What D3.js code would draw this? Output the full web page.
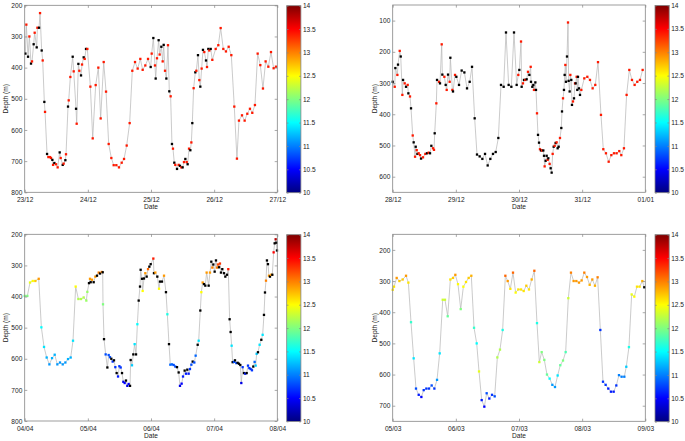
<!DOCTYPE html>
<html><head><meta charset="utf-8">
<script src="https://cdn.jsdelivr.net/npm/d3@7"></script>
<style>
body{margin:0;background:#fff}
svg{display:block}
text{font-family:"Liberation Sans",Arial,Helvetica,sans-serif;fill:#222}
</style>
</head><body>
<svg id="chart" width="685" height="441"></svg>
<script>
// ---------- DATA (time = days since panel start, depth in m, temperature in °C; null = no temperature) ----------
const p1Start = "2012-12-23";
const p1Time = [0.011,0.026,0.053,0.074,0.100,0.116,0.142,0.158,0.190,0.201,0.227,0.243,0.269,0.285,0.311,0.322,0.354,0.375,0.401,0.417,0.438,0.449,0.470,0.496,0.522,0.554,0.570,0.602,0.617,0.644,0.654,0.686,0.697,0.723,0.760,0.776,0.813,0.823,0.850,0.865,0.892,0.908,0.934,0.950,0.971,0.992,1.040,1.077,1.124,1.166,1.203,1.251,1.288,1.330,1.372,1.409,1.451,1.493,1.536,1.573,1.615,1.662,1.704,1.747,1.789,1.831,1.868,1.910,1.953,1.995,2.011,2.037,2.063,2.074,2.095,2.121,2.137,2.164,2.185,2.201,2.222,2.243,2.269,2.290,2.311,2.332,2.348,2.369,2.385,2.412,2.438,2.459,2.480,2.501,2.522,2.544,2.565,2.580,2.602,2.623,2.639,2.654,2.675,2.702,2.718,2.744,2.765,2.781,2.802,2.823,2.844,2.871,2.887,2.908,2.923,2.945,2.971,3.024,3.066,3.103,3.145,3.187,3.230,3.272,3.319,3.361,3.393,3.441,3.483,3.525,3.567,3.604,3.646,3.689,3.731,3.773,3.815,3.858,3.900,3.942,3.979];
const p1Depth = [355,262,365,300,387,380,325,288,335,272,272,225,345,377,510,542,677,687,687,690,696,712,706,710,720,672,690,712,708,697,678,525,505,430,365,412,532,580,388,410,425,390,367,372,340,340,461,627,456,400,563,382,477,645,690,713,713,720,705,693,650,578,410,382,403,372,407,393,372,398,355,305,393,435,370,312,358,333,380,327,410,435,328,476,492,645,660,705,712,725,712,715,720,720,703,693,703,710,660,665,640,578,466,415,410,360,440,461,403,343,350,377,398,340,345,340,375,340,328,273,340,348,333,360,525,692,570,553,570,548,532,545,520,355,392,467,380,397,350,402,397];
const p1Temp = [null,13.4,null,13.4,null,13.4,null,13.4,null,13.4, null,13.4,null,13.4,null,13.4,null,13.4,13.4,13.4, null,13.4,null,13.4,13.4,null,13.4,null,13.4,null, 13.4,null,13.4,13.4,null,13.4,null,13.4,null,13.4, null,13.4,null,13.4,null,13.4,13.4,13.4,13.4,13.4, 13.4,13.4,13.4,13.4,13.4,13.4,13.4,13.4,13.4,13.4, 13.4,13.4,13.4,13.4,13.4,13.4,13.4,13.4,13.4,null, 13.4,null,13.4,null,13.4,null,13.4,null,13.4,null, 13.4,null,13.4,null,13.4,null,13.4,null,13.4,null, 13.4,null,13.4,null,13.4,null,13.4,null,13.4,null, 13.4,null,13.4,null,13.4,null,13.4,null,13.4,null, 13.4,null,13.4,null,13.4,null,13.4,13.4,13.4,13.4, 13.4,13.4,13.4,13.4,13.4,13.4,13.4,13.4,13.4,13.4, 13.4,13.4,13.4,13.4,13.4,13.4,13.4,13.4,13.4,13.4,13.4];

const p2Start = "2012-12-28";
const p2Time = [0.000,0.032,0.042,0.074,0.084,0.111,0.127,0.153,0.164,0.190, 0.211,0.237,0.248,0.274,0.290,0.317,0.332,0.354,0.364,0.380, 0.391,0.412,0.433,0.449,0.480,0.517,0.543,0.570,0.591,0.612, 0.639,0.654,0.665,0.691,0.702,0.734,0.749,0.776,0.786,0.818, 0.839,0.855,0.876,0.902,0.913,0.945,0.955,0.987,1.008,1.050, 1.092,1.135,1.177,1.219,1.256,1.298,1.335,1.377,1.420,1.462, 1.504,1.546,1.588,1.631,1.673,1.715,1.757,1.794,1.836,1.879, 1.921,1.963,1.989,2.005,2.032,2.042,2.063,2.079,2.100,2.121, 2.142,2.164,2.185,2.190,2.211,2.227,2.237,2.259,2.269,2.285, 2.301,2.317,2.332,2.348,2.364,2.385,2.396,2.406,2.422,2.438, 2.454,2.464,2.485,2.501,2.517,2.533,2.549,2.565,2.580,2.596, 2.612,2.628,2.649,2.670,2.681,2.697,2.712,2.723,2.734,2.744, 2.760,2.776,2.786,2.802,2.813,2.828,2.839,2.855,2.871,2.887, 2.897,2.913,2.923,2.934,2.950,2.966,2.987,3.034,3.082,3.124, 3.166,3.208,3.251,3.298,3.335,3.377,3.420,3.462,3.504,3.546, 3.588,3.620,3.662,3.704,3.747,3.789,3.831,3.873,3.916,3.958];
const p2Depth = [296,312,252,274,241,197,215,338,290,301, 312,306,333,343,381,468,490,536,504,515, 527,525,531,542,538,527,525,523,525,501, 509,514,461,365,290,296,301,176,273,280, 306,322,273,296,219,322,327,274,280,306, 260,266,317,296,248,413,529,535,543,527, 564,543,527,521,476,306,312,138,306,312, 138,306,274,258,167,312,301,290,290,288, 264,274,248,296,312,306,322,298,322,397, 466,491,512,516,516,516,533,567,549,533, 546,541,559,573,587,527,504,501,492,490, 509,504,476,444,391,349,322,274,242,296, 215,106,293,327,274,290,370,359,349,301, 301,280,322,280,317,338,322,285,280,290, 317,306,233,402,512,525,552,531,525,525, 518,531,509,338,258,290,306,296,290,258];
const p2Temp = [null,13.4,null,13.4,null,13.4,null,13.4,null,13.4, null,13.4,null,13.4,null,13.4,null,13.4,null,13.4, null,13.4,13.4,null,13.4,13.4,null,13.4,null,null, 13.4,13.4,null,13.4,null,13.4,null,13.4,null,13.4, null,13.4,null,13.4,null,13.4,null,13.4,null,null, null,null,null,null,null,null,null,null,null,null, null,null,null,null,null,null,null,null,null,null, null,null,13.4,null,13.4,null,13.4,null,13.4,null, 13.4,null,13.4,null,null,null,13.4,null,null,13.4, null,null,13.4,null,13.4,null,null,13.4,null,null, 13.4,null,13.4,null,null,13.4,null,13.4,null,13.4, null,null,13.4,null,null,13.4,null,null,13.4,null, null,13.4,null,null,13.4,null,null,13.4,null,13.4, null,13.4,null,null,null,null,13.4,13.4,13.4,13.4, 13.4,13.4,13.4,13.4,13.4,13.4,13.4,13.4,13.4,13.4, 13.4,13.4,13.4,13.4,13.4,13.4,13.4,13.4,13.4,13.4];

const p3Start = "2013-04-04";
const p3Time = [0.000,0.042,0.084,0.127,0.169,0.222,0.264,0.306,0.348,0.391, 0.433,0.475,0.517,0.559,0.602,0.644,0.686,0.728,0.765,0.807, 0.850,0.892,0.934,0.976,0.992,1.018,1.034,1.045,1.066,1.092, 1.119,1.145,1.172,1.193,1.219,1.235,1.240,1.256,1.282,1.309, 1.330,1.351,1.372,1.393,1.414,1.435,1.456,1.478,1.499,1.520, 1.541,1.562,1.583,1.604,1.625,1.646,1.668,1.678,1.699,1.720, 1.741,1.763,1.784,1.805,1.826,1.836,1.858,1.868,1.889,1.910, 1.931,1.953,1.974,1.995,2.037,2.047,2.069,2.100,2.127,2.142, 2.174,2.206,2.237,2.259,2.285,2.306,2.332,2.359,2.385,2.412, 2.438,2.459,2.485,2.507,2.533,2.554,2.575,2.596,2.617,2.639, 2.660,2.686,2.707,2.739,2.755,2.781,2.797,2.818,2.839,2.860, 2.881,2.913,2.934,2.955,2.971,2.987,3.008,3.029,3.045,3.061, 3.077,3.092,3.108,3.129,3.156,3.177,3.203,3.224,3.245,3.261, 3.277,3.293,3.314,3.330,3.351,3.372,3.393,3.414,3.430,3.451, 3.472,3.493,3.515,3.536,3.557,3.578,3.599,3.620,3.641,3.657, 3.673,3.694,3.720,3.747,3.768,3.789,3.805,3.821,3.836,3.852, 3.868,3.884,3.905,3.921,3.942,3.958,3.974,3.984,3.995];
const p3Depth = [398,398,355,350,350,343,499,562,596,618, 598,587,618,612,618,612,601,596,542,368, 408,408,403,413,385,357,343,354,346,354, 336,333,323,326,321,322,425,537,586,628, 588,595,600,609,605,627,646,657,624,628, 646,674,678,670,687,681,687,604,621,586, 553,586,489,413,368,314,343,382,342,325, 336,312,304,296,278,325,323,336,375,352, 352,333,386,457,553,619,618,620,625,627, 644,687,680,657,638,648,635,648,633,619, 609,612,590,555,542,445,386,355,360,365, 323,365,323,288,307,297,320,284,307,297, 306,294,323,312,325,336,330,312,473,514, 558,611,610,605,614,613,616,620,678,627, 646,648,646,622,630,633,637,625,610,622, 584,579,555,539,523,459,387,349,284,296, 333,336,330,330,258,229,216,227,252];
const p3Temp = [12.0,12.0,12.4,12.5,12.7,12.9,11.5,11.4,11.2,11.1, 11.2,11.2,11.1,11.1,11.1,11.1,11.2,11.2,11.4,12.5, 12.2,12.2,12.2,12.1,12.1,null,12.9,null,12.9,null, 12.9,null,13.0,null,13.0,null,12.0,null,10.8,null, 10.8,10.8,null,10.7,null,10.7,null,10.6,10.7,10.7, null,10.4,10.5,null,10.4,10.5,null,null,11.3,null, 11.4,null,11.5,null,null,null,null,12.5,null,12.9, null,13.1,null,null,13.4,null,12.9,null,12.5,null, null,12.9,null,11.6,null,10.9,10.9,10.8,10.8,null, null,10.4,10.5,10.6,null,10.6,null,10.6,10.7,10.8, null,10.8,10.9,null,11.4,null,12.5,12.9,null,null, 12.9,null,12.9,null,13.0,null,null,null,13.0,13.2, null,13.3,null,null,null,null,null,13.4,null,null, 11.4,null,10.8,null,10.8,null,null,null,10.4,10.7, null,10.6,null,10.7,10.7,10.7,10.7,null,10.9,11.3, 11.3,null,11.4,null,11.4,null,null,13.0,null,null, 12.9,null,12.9,null,13.5,null,13.8,null,null];

const p4Start = "2013-03-05";
const p4Time = [0.000,0.021,0.063,0.106,0.158,0.211,0.248,0.290,0.332,0.369, 0.412,0.454,0.491,0.533,0.575,0.617,0.660,0.702,0.744,0.792, 0.828,0.871,0.913,0.955,0.992,1.034,1.077,1.119,1.161,1.203, 1.245,1.288,1.330,1.367,1.409,1.451,1.488,1.530,1.573,1.615, 1.657,1.699,1.741,1.784,1.821,1.863,1.905,1.947,1.989,2.032, 2.074,2.116,2.158,2.201,2.243,2.285,2.322,2.359,2.401,2.443, 2.485,2.528,2.570,2.612,2.654,2.697,2.739,2.781,2.823,2.865, 2.908,2.950,2.992,3.034,3.077,3.119,3.161,3.203,3.245,3.288, 3.330,3.372,3.414,3.456,3.499,3.541,3.583,3.625,3.668,3.699, 3.741,3.784,3.826,3.868,3.910,3.953,3.984];
const p4Depth = [328,318,290,300,295,283,305,432,548,645, 665,672,650,645,645,635,645,617,532,360, 360,413,295,290,280,310,390,318,303,290, 283,450,500,590,682,703,660,677,665,670, 545,520,457,283,300,325,273,337,327,327, 332,315,327,295,267,435,560,528,553,600, 613,633,640,603,570,555,528,355,273,300, 300,305,298,273,287,312,295,315,288,457, 623,633,645,655,655,635,602,607,607,575, 512,343,350,318,318,300,320];
const p4Temp = [12.6,12.6,12.9,12.7,12.7,12.9,12.6,11.7,11.4,10.8, 10.6,10.5,10.7,10.7,10.7,10.8,10.7,11.1,11.4,12.3, 12.3,11.9,12.6,12.7,12.9,12.5,12.0,12.5,12.6,12.7, 12.8,11.7,11.5,12.4,10.6,10.5,10.8,10.6,10.7,10.8, 12.2,12.2,11.6,13.1,12.9,12.6,13.1,12.5,12.6,12.6, 12.6,12.7,12.6,12.8,13.1,11.6,12.3,12.0,12.0,11.9, 11.5,11.1,11.1,11.4,11.9,12.0,11.8,12.3,13.0,12.9, 12.9,12.9,12.9,13.0,12.9,12.8,12.9,12.8,13.0,10.7, 10.7,10.7,10.6,10.6,10.6,10.7,11.0,11.0,11.0,11.3, 11.6,12.4,12.5,12.6,12.6,12.8,null];

const depthTicksA = [200,300,400,500,600,700,800];
const depthTicksB = [100,200,300,400,500,600];
const depthTicksD = [200,300,400,500,600,700];
const tempTicks = [10,10.5,11,11.5,12,12.5,13,13.5,14];
const tempRange = [10,14];

// ---------- LAYOUT ----------
const layout = [
  {start:p1Start, time:p1Time, depth:p1Depth, temp:p1Temp, yDom:[200,800], yTicks:depthTicksA,
   x0:24.7, x1:277.3, y0:5.3, y1:192.3, cbx:286.7, ylx:8.3, dateY:209},
  {start:p2Start, time:p2Time, depth:p2Depth, temp:p2Temp, yDom:[50,650], yTicks:depthTicksB,
   x0:392.7, x1:645.3, y0:5.0, y1:192.3, cbx:655, ylx:376.5, dateY:209},
  {start:p3Start, time:p3Time, depth:p3Depth, temp:p3Temp, yDom:[200,800], yTicks:depthTicksA,
   x0:24.7, x1:277.3, y0:234.3, y1:421.0, cbx:286.7, ylx:8.3, dateY:437.5},
  {start:p4Start, time:p4Time, depth:p4Depth, temp:p4Temp, yDom:[150,750], yTicks:depthTicksD,
   x0:392.7, x1:645.3, y0:234.3, y1:421.3, cbx:655, ylx:376.5, dateY:437.5}
];

const FS = 6.6;
const AXIS = "#858585";

// MATLAB "jet"
const jet = t => {
  t = Math.max(0, Math.min(1, t));
  const c = v => Math.round(255 * Math.max(0, Math.min(1, 1.5 - Math.abs(4 * t - v))));
  return `rgb(${c(3)},${c(2)},${c(1)})`;
};
const colorScale = d3.scaleSequential(jet).domain(tempRange);

const svg = d3.select("#chart");
const defs = svg.append("defs");
const grad = defs.append("linearGradient").attr("id", "jetgrad")
  .attr("x1", 0).attr("y1", 1).attr("x2", 0).attr("y2", 0);
d3.range(0, 65).forEach(i => {
  const v = tempRange[0] + (tempRange[1] - tempRange[0]) * i / 64;
  grad.append("stop").attr("offset", (i / 64)).attr("stop-color", colorScale(v));
});

const fmt = d3.timeFormat("%d/%m");
const parse = d3.timeParse("%Y-%m-%d");

function styleAxis(g) {
  g.select(".domain").remove();
  g.selectAll("line").attr("stroke", AXIS).attr("stroke-width", 0.7);
  g.selectAll("text").attr("font-size", FS).attr("fill", "#222")
    .attr("font-family", '"Liberation Sans",Arial,sans-serif');
}

layout.forEach(p => {
  const start = parse(p.start);
  const end = d3.timeDay.offset(start, 4);
  const x = d3.scaleTime().domain([start, end]).range([p.x0, p.x1]);
  const y = d3.scaleLinear().domain(p.yDom).range([p.y0, p.y1]);
  const pts = p.time.map((t, i) => ({
    date: new Date(start.getTime() + t * 864e5), depth: p.depth[i], temp: p.temp[i]
  }));

  const g = svg.append("g");

  // line
  g.append("path").datum(pts)
    .attr("d", d3.line().x(d => x(d.date)).y(d => y(d.depth)))
    .attr("fill", "none").attr("stroke", "#b9b9b9").attr("stroke-width", 0.75);

  // markers
  const s = 2.3;
  g.selectAll("rect.pt").data(pts).join("rect").attr("class", "pt")
    .attr("x", d => x(d.date) - s / 2).attr("y", d => y(d.depth) - s / 2)
    .attr("width", s).attr("height", s)
    .attr("fill", d => d.temp == null ? "#000" : colorScale(d.temp));

  // axes (ticks pointing inward, MATLAB style)
  const days = d3.timeDay.range(start, d3.timeDay.offset(end, 1));
  g.append("g").attr("transform", `translate(0,${p.y1})`)
    .call(d3.axisBottom(x).tickValues(days).tickFormat(fmt).tickSizeInner(-2.6).tickSizeOuter(0).tickPadding(5))
    .call(styleAxis);
  g.append("g").attr("transform", `translate(0,${p.y0})`)
    .call(d3.axisTop(x).tickValues(days).tickFormat("").tickSizeInner(-2.6).tickSizeOuter(0))
    .call(styleAxis);
  g.append("g").attr("transform", `translate(${p.x0},0)`)
    .call(d3.axisLeft(y).tickValues(p.yTicks).tickSizeInner(-2.6).tickSizeOuter(0).tickPadding(2.4))
    .call(styleAxis);
  g.append("g").attr("transform", `translate(${p.x1},0)`)
    .call(d3.axisRight(y).tickValues(p.yTicks).tickFormat("").tickSizeInner(-2.6).tickSizeOuter(0))
    .call(styleAxis);

  g.append("rect").attr("x", p.x0).attr("y", p.y0)
    .attr("width", p.x1 - p.x0).attr("height", p.y1 - p.y0)
    .attr("fill", "none").attr("stroke", AXIS).attr("stroke-width", 0.8);

  // axis labels
  g.append("text").attr("x", (p.x0 + p.x1) / 2).attr("y", p.dateY)
    .attr("text-anchor", "middle").attr("font-size", FS).text("Date");
  g.append("text")
    .attr("transform", `translate(${p.ylx},${(p.y0 + p.y1) / 2}) rotate(-90)`)
    .attr("text-anchor", "middle").attr("font-size", FS).text("Depth (m)");

  // colorbar
  const cw = 14.2;
  const cy0 = p.y0 + 0.4, cy1 = p.y1 + 0.4;
  const cscale = d3.scaleLinear().domain(tempRange).range([cy1, cy0]);
  g.append("rect").attr("x", p.cbx).attr("y", cy0).attr("width", cw).attr("height", cy1 - cy0)
    .attr("fill", "url(#jetgrad)");
  g.append("g").attr("transform", `translate(${p.cbx + cw},0)`)
    .call(d3.axisRight(cscale).tickValues(tempTicks).tickFormat(d => String(d))
      .tickSizeInner(-1.8).tickSizeOuter(0).tickPadding(2))
    .call(styleAxis);
  g.append("g").attr("transform", `translate(${p.cbx},0)`)
    .call(d3.axisLeft(cscale).tickValues(tempTicks).tickFormat("").tickSizeInner(-1.8).tickSizeOuter(0))
    .call(styleAxis);
  g.append("rect").attr("x", p.cbx).attr("y", cy0).attr("width", cw).attr("height", cy1 - cy0)
    .attr("fill", "none").attr("stroke", AXIS).attr("stroke-width", 0.8);
});
</script>
</body></html>
